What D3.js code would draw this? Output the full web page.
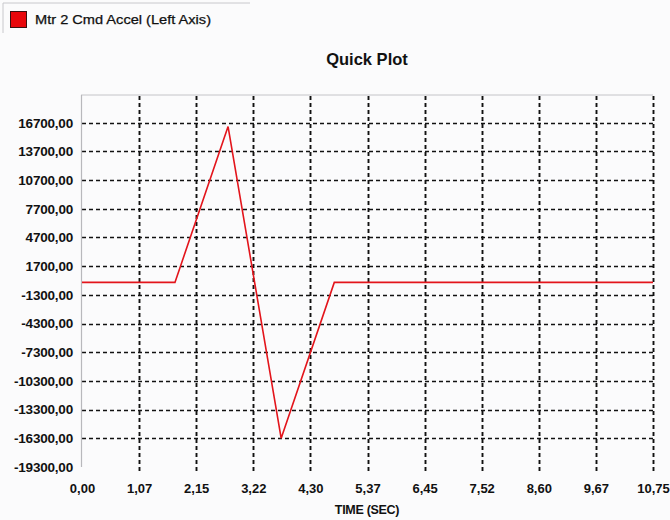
<!DOCTYPE html>
<html>
<head>
<meta charset="utf-8">
<script src="https://cdn.jsdelivr.net/npm/d3@7"></script>
<style>
  html, body { margin: 0; padding: 0; background: #fbfbfc; }
  svg { display: block; }
  text { font-family: "Liberation Sans", Arial, sans-serif; fill: #111; }
</style>
</head>
<body>
<svg id="chart" width="670" height="520"></svg>
<script>
// Motor 2 commanded acceleration profile (time in seconds)
const seriesName = "Mtr  2 Cmd Accel (Left Axis)";
const timeValues = [0.00, 1.75, 2.75, 3.75, 4.75, 10.75];
const accelValues = [0, 0, 16300, -16300, 0, 0];

const xTickValues = [0, 1.075, 2.15, 3.225, 4.30, 5.375, 6.45, 7.525, 8.60, 9.675, 10.75];
const xTickLabels = ["0,00", "1,07", "2,15", "3,22", "4,30", "5,37", "6,45", "7,52", "8,60", "9,67", "10,75"];
const yTickValues = [16700, 13700, 10700, 7700, 4700, 1700, -1300, -4300, -7300, -10300, -13300, -16300, -19300];
const yTickLabels = ["16700,00", "13700,00", "10700,00", "7700,00", "4700,00", "1700,00", "-1300,00",
                     "-4300,00", "-7300,00", "-10300,00", "-13300,00", "-16300,00", "-19300,00"];

const svg = d3.select("#chart");
const plotLeft = 82, plotRight = 653, plotTop = 94, plotBottom = 467;

const x = d3.scaleLinear().domain([0, 10.75]).range([plotLeft, plotRight]);
const y = d3.scaleLinear().domain([-19300, 19700]).range([plotBottom, plotTop]);

// legend panel
svg.append("path")
  .attr("d", "M3,33 V3 H250")
  .attr("fill", "none").attr("stroke", "#c8c8cc").attr("stroke-width", 1);
svg.append("rect")
  .attr("x", 10.5).attr("y", 11.5).attr("width", 16).attr("height", 16)
  .attr("fill", "#e8070b").attr("stroke", "#3a1010").attr("stroke-width", 1);
svg.append("text")
  .attr("x", 35).attr("y", 24)
  .attr("font-size", 12)
  .attr("textLength", 176).attr("lengthAdjust", "spacingAndGlyphs")
  .attr("stroke", "#111").attr("stroke-width", 0.25)
  .text(seriesName);

// title
svg.append("text")
  .attr("x", 367).attr("y", 65)
  .attr("text-anchor", "middle")
  .attr("font-size", 16.5).attr("font-weight", "bold")
  .text("Quick Plot");

// horizontal dashed grid (every y tick except the bottom edge)
svg.append("g")
  .selectAll("line")
  .data(yTickValues.filter(v => v > -19300))
  .join("line")
  .attr("x1", plotLeft).attr("x2", plotRight)
  .attr("y1", d => Math.round(y(d)) + 0.5).attr("y2", d => Math.round(y(d)) + 0.5)
  .attr("stroke", "#111").attr("stroke-width", 1.7)
  .attr("stroke-dasharray", "4,3");

// vertical dashed grid
svg.append("g")
  .selectAll("line")
  .data(xTickValues.slice(1))
  .join("line")
  .attr("x1", d => Math.round(x(d)) + 0.5).attr("x2", d => Math.round(x(d)) + 0.5)
  .attr("y1", plotTop + 2).attr("y2", plotBottom + 4)
  .attr("stroke", "#111").attr("stroke-width", 1.9)
  .attr("stroke-dasharray", "4,3");

// frame: top edge and left axis
svg.append("line")
  .attr("x1", plotLeft - 1).attr("x2", plotRight).attr("y1", plotTop + 1).attr("y2", plotTop + 1)
  .attr("stroke", "#c4c4c8").attr("stroke-width", 1);
svg.append("line")
  .attr("x1", plotLeft - 0.5).attr("x2", plotLeft - 0.5).attr("y1", plotTop + 1).attr("y2", plotBottom)
  .attr("stroke", "#b8b8bc").attr("stroke-width", 1.2);

// y axis labels
const yAxis = d3.axisLeft(y)
  .tickValues(yTickValues)
  .tickFormat((d, i) => yTickLabels[i])
  .tickSize(0).tickPadding(9);
const gy = svg.append("g").attr("transform", `translate(${plotLeft},0)`).call(yAxis);
gy.select(".domain").remove();
gy.selectAll("text")
  .attr("font-size", 13.5).attr("font-weight", "bold")
  .attr("font-family", "'Liberation Sans', Arial, sans-serif")
  .attr("fill", "#151515")
  .style("letter-spacing", "-0.2px");

// x axis labels
const xAxis = d3.axisBottom(x)
  .tickValues(xTickValues)
  .tickFormat((d, i) => xTickLabels[i])
  .tickSize(0).tickPadding(17);
const gx = svg.append("g").attr("transform", `translate(0,${plotBottom})`).call(xAxis);
gx.select(".domain").remove();
gx.selectAll("text")
  .attr("font-size", 13).attr("font-weight", "bold")
  .attr("font-family", "'Liberation Sans', Arial, sans-serif")
  .attr("fill", "#151515");

svg.append("text")
  .attr("x", 367).attr("y", 514)
  .attr("text-anchor", "middle")
  .attr("font-size", 12.5).attr("font-weight", "bold")
  .style("letter-spacing", "-0.3px")
  .text("TIME (SEC)");

// acceleration trace
const line = d3.line()
  .x((d, i) => x(timeValues[i]))
  .y(d => y(d));
svg.append("path")
  .datum(accelValues)
  .attr("d", line)
  .attr("fill", "none")
  .attr("stroke", "#e3141b")
  .attr("stroke-width", 1.6);
</script>
</body>
</html>
